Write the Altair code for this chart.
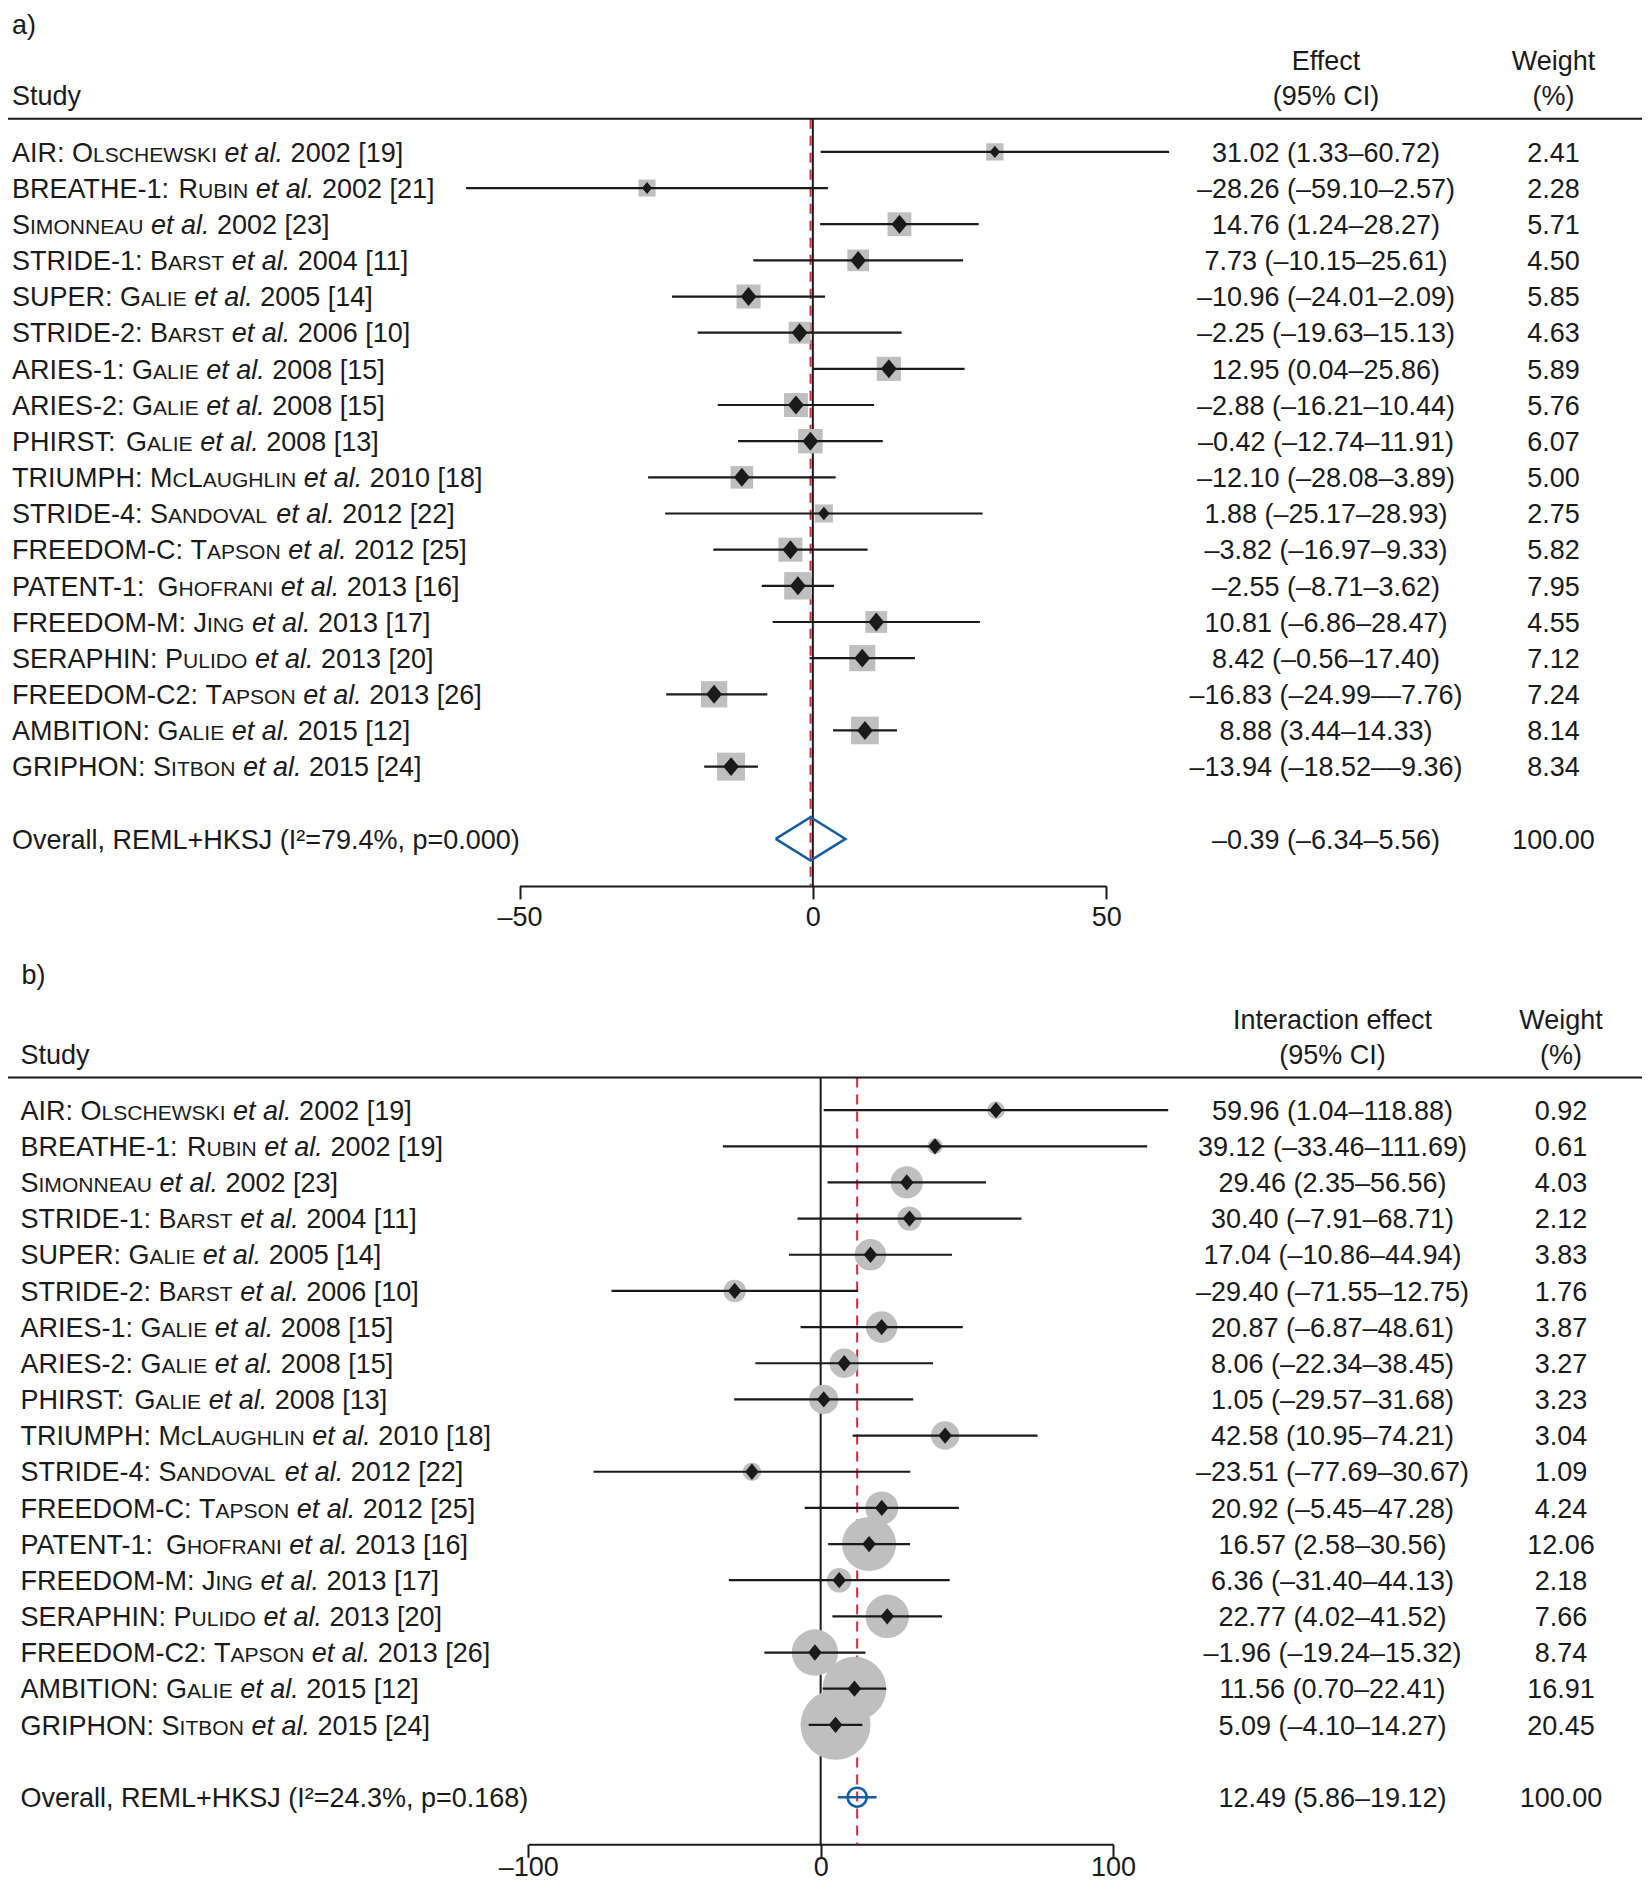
import itertools
import altair as alt
import pandas as pd

# ---------------- data ----------------
studies_a = [
    "AIR: Olschewski et al. 2002 [19]",
    "BREATHE-1: Rubin et al. 2002 [21]",
    "Simonneau et al. 2002 [23]",
    "STRIDE-1: Barst et al. 2004 [11]",
    "SUPER: Galie et al. 2005 [14]",
    "STRIDE-2: Barst et al. 2006 [10]",
    "ARIES-1: Galie et al. 2008 [15]",
    "ARIES-2: Galie et al. 2008 [15]",
    "PHIRST: Galie et al. 2008 [13]",
    "TRIUMPH: McLaughlin et al. 2010 [18]",
    "STRIDE-4: Sandoval et al. 2012 [22]",
    "FREEDOM-C: Tapson et al. 2012 [25]",
    "PATENT-1: Ghofrani et al. 2013 [16]",
    "FREEDOM-M: Jing et al. 2013 [17]",
    "SERAPHIN: Pulido et al. 2013 [20]",
    "FREEDOM-C2: Tapson et al. 2013 [26]",
    "AMBITION: Galie et al. 2015 [12]",
    "GRIPHON: Sitbon et al. 2015 [24]",
]
effect_a = [31.02, -28.26, 14.76, 7.73, -10.96, -2.25, 12.95, -2.88, -0.42,
            -12.10, 1.88, -3.82, -2.55, 10.81, 8.42, -16.83, 8.88, -13.94]
lower_a = [1.33, -59.10, 1.24, -10.15, -24.01, -19.63, 0.04, -16.21, -12.74,
           -28.08, -25.17, -16.97, -8.71, -6.86, -0.56, -24.99, 3.44, -18.52]
upper_a = [60.72, 2.57, 28.27, 25.61, 2.09, 15.13, 25.86, 10.44, 11.91,
           3.89, 28.93, 9.33, 3.62, 28.47, 17.40, -7.76, 14.33, -9.36]
weight_a = [2.41, 2.28, 5.71, 4.50, 5.85, 4.63, 5.89, 5.76, 6.07,
            5.00, 2.75, 5.82, 7.95, 4.55, 7.12, 7.24, 8.14, 8.34]
overall_label_a = "Overall, REML+HKSJ (I²=79.4%, p=0.000)"
overall_a = [-0.39, -6.34, 5.56]
overall_weight_a = 100.00
header_a = ["Effect", "(95% CI)"]
ticks_a = [-50, 0, 50]

studies_b = list(studies_a)
studies_b[1] = "BREATHE-1: Rubin et al. 2002 [19]"
effect_b = [59.96, 39.12, 29.46, 30.40, 17.04, -29.40, 20.87, 8.06, 1.05,
            42.58, -23.51, 20.92, 16.57, 6.36, 22.77, -1.96, 11.56, 5.09]
lower_b = [1.04, -33.46, 2.35, -7.91, -10.86, -71.55, -6.87, -22.34, -29.57,
           10.95, -77.69, -5.45, 2.58, -31.40, 4.02, -19.24, 0.70, -4.10]
upper_b = [118.88, 111.69, 56.56, 68.71, 44.94, 12.75, 48.61, 38.45, 31.68,
           74.21, 30.67, 47.28, 30.56, 44.13, 41.52, 15.32, 22.41, 14.27]
weight_b = [0.92, 0.61, 4.03, 2.12, 3.83, 1.76, 3.87, 3.27, 3.23,
            3.04, 1.09, 4.24, 12.06, 2.18, 7.66, 8.74, 16.91, 20.45]
overall_label_b = "Overall, REML+HKSJ (I²=24.3%, p=0.168)"
overall_b = [12.49, 5.86, 19.12]
overall_weight_b = 100.00
header_b = ["Interaction effect", "(95% CI)"]
ticks_b = [-100, 0, 100]

# ---------------- style / layout ----------------
FONT = "Liberation Sans"
FS = 27
SC = 0.78          # small-caps scale
INK = "#1a1a1a"
GREY = "#bfbfbf"
BLUE = "#135ea0"
RED = "#d7263d"
DYTXT = 0.36 * FS
SVG_H = 1874
WIDTH = 1634

Y0, DY = 143.9, 36.16      # plot-y of row 0 and row pitch
yscale = alt.Scale(domain=[0, 1], range=[Y0, Y0 + DY], zero=False, nice=False)


def yr(r):
    return Y0 + DY * r


AW = {' ': 278, '(': 333, ')': 333, '[': 278, ']': 278, ':': 278, '.': 278, ',': 278,
      '-': 333, '+': 584, '=': 584, '%': 889, '²': 333, '–': 556,
      'A': 667, 'B': 667, 'C': 722, 'D': 722, 'E': 667, 'F': 611, 'G': 778, 'H': 722,
      'I': 278, 'J': 500, 'K': 667, 'L': 556, 'M': 833, 'N': 722, 'O': 778, 'P': 667,
      'Q': 778, 'R': 722, 'S': 667, 'T': 611, 'U': 722, 'V': 667, 'W': 944, 'X': 667,
      'Y': 667, 'Z': 611,
      'a': 556, 'b': 556, 'c': 500, 'd': 556, 'e': 556, 'f': 278, 'g': 556, 'h': 556,
      'i': 222, 'j': 222, 'k': 500, 'l': 222, 'm': 833, 'n': 556, 'o': 556, 'p': 556,
      'q': 556, 'r': 333, 's': 500, 't': 278, 'u': 556, 'v': 500, 'w': 722, 'x': 500,
      'y': 500, 'z': 500}


def tw(s, size):
    return sum(AW.get(c, 556) for c in s) * size / 1000.0


def label_segments(label, x0, r):
    if " et al." not in label:
        return [(x0, r, label, "n")]
    head, tail = label.split(" et al.", 1)
    prefix, _, surname = head.rpartition(" ")
    if prefix:
        prefix += " "
    parts = [(prefix, "n")]
    for up, g in itertools.groupby(surname, key=lambda c: not c.islower()):
        s = "".join(g)
        parts.append((s, "n") if up else (s.upper(), "s"))
    parts += [(" ", "n"), ("et al.", "i"), (tail, "n")]
    out, x = [], x0
    for text, kind in parts:
        size = FS * SC if kind == "s" else FS
        t = text.strip(" ")
        if not t:
            x += len(text) * AW[" "] * size / 1000.0
            continue
        lead = len(text) - len(text.lstrip(" "))
        trail = len(text) - len(text.rstrip(" "))
        x += lead * AW[" "] * size / 1000.0
        out.append((x, r, t, kind))
        x += tw(t, size)
        x += trail * AW[" "] * size / 1000.0
    return out


def fmt(v):
    return f"{v:.2f}".replace("-", "–")


panels = [
    dict(studies=studies_a, est=effect_a, lo=lower_a, hi=upper_a, w=weight_a,
         olabel=overall_label_a, ov=overall_a, ow=overall_weight_a, header=header_a,
         ticks=ticks_a, letter="a)", letter_x=4, letter_r=-3.52, label_x=4,
         eff_x=1318, wt_x=1545.5, hdr1_r=-2.53, hdr2_r=-1.57, line_r=-0.92,
         row0=0, overall_r=19, axis_r=20.3, xdom=[-50, 50], xrange=[511.5, 1098.2],
         kind="a", lpad=26.5),
    dict(studies=studies_b, est=effect_b, lo=lower_b, hi=upper_b, w=weight_b,
         olabel=overall_label_b, ov=overall_b, ow=overall_weight_b, header=header_b,
         ticks=ticks_b, letter="b)", letter_x=13.5, letter_r=22.75, label_x=12.5,
         eff_x=1324.5, wt_x=1553, hdr1_r=24.0, hdr2_r=24.96, line_r=25.6,
         row0=26.5, overall_r=45.5, axis_r=46.8, xdom=[-100, 100], xrange=[520.3, 1105.0],
         kind="b", lpad=18.5),
]

H = round(yr(panels[1]["axis_r"]), 1)

segs, centered, hlines = [], [], []
layers = []

for p in panels:
    segs.append((p["letter_x"], p["letter_r"], p["letter"], "n"))
    segs.append((p["label_x"], p["hdr2_r"], "Study", "n"))
    centered += [(p["eff_x"], p["hdr1_r"], p["header"][0]),
                 (p["eff_x"], p["hdr2_r"], p["header"][1]),
                 (p["wt_x"], p["hdr1_r"], "Weight"),
                 (p["wt_x"], p["hdr2_r"], "(%)")]
    hlines.append((0, WIDTH, p["line_r"]))
    rows = [p["row0"] + i for i in range(len(p["studies"]))]
    for name, r, e, lo, hi, w in zip(p["studies"], rows, p["est"], p["lo"], p["hi"], p["w"]):
        segs += label_segments(name, p["label_x"], r)
        centered.append((p["eff_x"], r, f"{fmt(e)} ({fmt(lo)}–{fmt(hi)})"))
        centered.append((p["wt_x"], r, f"{w:.2f}"))
    segs.append((p["label_x"], p["overall_r"], p["olabel"], "n"))
    oe, olo, ohi = p["ov"]
    centered.append((p["eff_x"], p["overall_r"], f"{fmt(oe)} ({fmt(olo)}–{fmt(ohi)})"))
    centered.append((p["wt_x"], p["overall_r"], f"{p['ow']:.2f}"))

    xs = alt.Scale(domain=p["xdom"], range=p["xrange"], zero=False, nice=False)
    df = pd.DataFrame({"r": rows, "est": p["est"], "lo": p["lo"], "hi": p["hi"], "w": p["w"]})
    vdf = pd.DataFrame({"v": [oe], "z": [0.0], "r1": [p["line_r"]], "r2": [p["axis_r"]]})

    offset = round(yr(p["axis_r"]) - H, 1)
    axis = alt.Axis(values=p["ticks"], title=None, orient="bottom", offset=offset, grid=False,
                    domainColor=INK, domainWidth=2, tickColor=INK, tickWidth=2, tickSize=13,
                    labelFont=FONT, labelFontSize=FS, labelColor=INK, labelPadding=p["lpad"],
                    labelBaseline="alphabetic",
                    labelFlush=False, labelOverlap=False,
                    labelExpr="datum.value < 0 ? '–' + abs(datum.value) : '' + datum.value")

    red = alt.Chart(vdf).mark_rule(color=RED, strokeWidth=2, strokeDash=[10, 7]).encode(
        x=alt.X("v:Q", scale=xs, axis=None),
        y=alt.Y("r1:Q", scale=yscale, axis=None), y2="r2:Q")
    zero = alt.Chart(vdf).mark_rule(color=INK, strokeWidth=2).encode(
        x=alt.X("z:Q", scale=xs, axis=axis),
        y=alt.Y("r1:Q", scale=yscale, axis=None), y2="r2:Q")
    layers += [red, zero]

    if p["kind"] == "a":
        box = alt.Chart(df).mark_square(color=GREY, opacity=1).encode(
            x=alt.X("est:Q", scale=xs, axis=None),
            y=alt.Y("r:Q", scale=yscale, axis=None),
            size=alt.Size("w:Q", scale=alt.Scale(domain=[0, 10], range=[104, 917], zero=False), legend=None))
    else:
        box = alt.Chart(df).mark_circle(color=GREY, opacity=1).encode(
            x=alt.X("est:Q", scale=xs, axis=None),
            y=alt.Y("r:Q", scale=yscale, axis=None),
            size=alt.Size("w:Q", scale=alt.Scale(domain=[0, 20], range=[92, 4792], zero=False), legend=None))
    ci = alt.Chart(df).mark_rule(color=INK, strokeWidth=2.2).encode(
        x=alt.X("lo:Q", scale=xs, axis=None), x2="hi:Q",
        y=alt.Y("r:Q", scale=yscale, axis=None))
    dshape = "M0,-1.2L1,0L0,1.2L-1,0Z"
    if p["kind"] == "a":
        dia = alt.Chart(df).mark_point(shape=dshape, filled=True, color=INK, opacity=1, strokeWidth=0).encode(
            x=alt.X("est:Q", scale=xs, axis=None),
            y=alt.Y("r:Q", scale=yscale, axis=None),
            size=alt.Size("w:Q", scale=alt.Scale(domain=[2.3, 4.6], range=[100, 250], clamp=True, zero=False), legend=None))
    else:
        dia = alt.Chart(df).mark_point(shape=dshape, filled=True, color=INK, opacity=1, strokeWidth=0,
                                       size=185).encode(
            x=alt.X("est:Q", scale=xs, axis=None),
            y=alt.Y("r:Q", scale=yscale, axis=None))
    layers += [box, ci, dia]

    if p["kind"] == "a":
        poly = pd.DataFrame({"x": [olo, oe, ohi, oe, olo],
                             "r": [p["overall_r"], p["overall_r"] - 0.6, p["overall_r"],
                                   p["overall_r"] + 0.6, p["overall_r"]],
                             "o": [0, 1, 2, 3, 4]})
        ov = alt.Chart(poly).mark_line(color=BLUE, strokeWidth=2.5, strokeJoin="miter").encode(
            x=alt.X("x:Q", scale=xs, axis=None),
            y=alt.Y("r:Q", scale=yscale, axis=None), order="o:Q")
        layers.append(ov)
    else:
        odf = pd.DataFrame({"est": [oe], "lo": [olo], "hi": [ohi], "r": [p["overall_r"]]})
        oline = alt.Chart(odf).mark_rule(color=BLUE, strokeWidth=2.5).encode(
            x=alt.X("lo:Q", scale=xs, axis=None), x2="hi:Q",
            y=alt.Y("r:Q", scale=yscale, axis=None))
        ocirc = alt.Chart(odf).mark_point(shape="circle", filled=False, color=BLUE, strokeWidth=2.5,
                                          size=361, opacity=1).encode(
            x=alt.X("est:Q", scale=xs, axis=None),
            y=alt.Y("r:Q", scale=yscale, axis=None))
        layers += [oline, ocirc]

# header lines
hl = pd.DataFrame(hlines, columns=["x1", "x2", "r"])
layers.append(alt.Chart(hl).mark_rule(color=INK, strokeWidth=2).encode(
    x=alt.X("x1:Q", scale=None, axis=None), x2="x2:Q",
    y=alt.Y("r:Q", scale=yscale, axis=None)))

sdf = pd.DataFrame(segs, columns=["px", "r", "text", "kind"])
cdf = pd.DataFrame(centered, columns=["px", "r", "text"])


def text_layer(d, size, style="normal", align="left"):
    return alt.Chart(d).mark_text(font=FONT, fontSize=size, fontStyle=style, align=align,
                                  baseline="alphabetic", dy=DYTXT, color=INK).encode(
        x=alt.X("px:Q", scale=None, axis=None),
        y=alt.Y("r:Q", scale=yscale, axis=None),
        text="text:N")


layers += [
    text_layer(sdf[sdf.kind == "n"], FS),
    text_layer(sdf[sdf.kind == "s"], FS * SC),
    text_layer(sdf[sdf.kind == "i"], FS, style="italic"),
    text_layer(cdf, FS, align="center"),
]

chart = alt.layer(*layers).resolve_scale(x="independent", size="independent").properties(
    width=WIDTH, height=H,
    autosize=alt.AutoSizeParams(type="none"),
    padding={"left": 0, "top": 0, "right": 0, "bottom": round(SVG_H - H)},
    background="white",
).configure_view(stroke=None)

chart.save("out.html", embed_options={"renderer": "svg", "actions": False})
